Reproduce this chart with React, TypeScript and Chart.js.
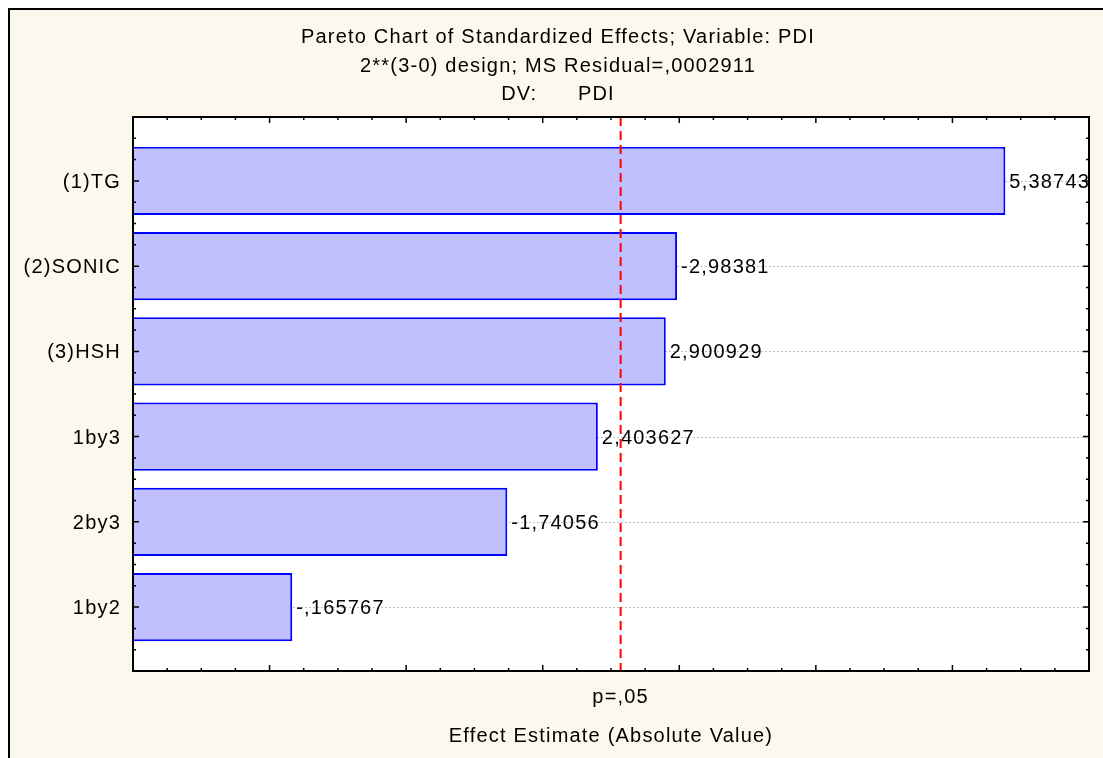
import { useEffect, useRef } from "react";
import { Chart, registerables } from "chart.js";

Chart.register(...registerables);

// Effects, in Pareto order (signed standardized estimates)
const effectNames = ["(1)TG", "(2)SONIC", "(3)HSH", "1by3", "2by3", "1by2"];
const effectValues = [5.38743, -2.98381, 2.900929, 2.403627, -1.74056, -0.165767];

// Significance threshold (t critical at p = .05)
const alphaLevel = 0.05;
const tCritical = 2.570582;
const msResidual = 0.0002911;

// Axis ranges and tick steps
const xRange = [-1, 6];
const yRange = [0.25, 6.75];
const tickStep = 0.25;

const FONT = '20px "Liberation Sans", Arial, sans-serif';
const BG = "#fcf8ed";

// Statistica-style number text: comma decimal, no leading zero
function fmt(v: number): string {
  let s = v.toPrecision(7);
  if (s.includes(".")) s = s.replace(/0+$/, "").replace(/\.$/, "");
  s = s.replace(/^(-?)0\./, "$1.");
  return s.replace(".", ",");
}

const titleLines = [
  "Pareto Chart of Standardized Effects; Variable: PDI",
  `2**(3-0) design; MS Residual=${fmt(msResidual)}`,
  "DV:      PDI",
];
const xAxisTitle = "Effect Estimate (Absolute Value)";
const thresholdLabel = `p=${fmt(alphaLevel)}`;

const CANVAS_W = 1100;
const CANVAS_H = 760;

const paretoDecor = {
  id: "paretoDecor",
  beforeDraw(chart: any) {
    const { ctx, chartArea: a } = chart;
    ctx.save();
    ctx.fillStyle = BG;
    ctx.fillRect(0, 0, CANVAS_W, CANVAS_H);
    ctx.strokeStyle = "#000";
    ctx.lineWidth = 2;
    ctx.strokeRect(1, 1, CANVAS_W - 2, CANVAS_H - 2);
    ctx.fillStyle = "#ffffff";
    ctx.fillRect(a.left, a.top, a.right - a.left, a.bottom - a.top);
    ctx.restore();
  },
  beforeDatasetsDraw(chart: any) {
    const { ctx, chartArea: a, scales } = chart;
    ctx.save();
    ctx.strokeStyle = "#bdbdbd";
    ctx.lineWidth = 1;
    ctx.setLineDash([2, 2]);
    effectNames.forEach((_, i) => {
      const y = Math.round(scales.y.getPixelForValue(i + 1)) + 0.5;
      ctx.beginPath();
      ctx.moveTo(a.left, y);
      ctx.lineTo(a.right, y);
      ctx.stroke();
    });
    ctx.restore();
  },
  afterDatasetsDraw(chart: any) {
    const { ctx, chartArea: a, scales } = chart;
    const xs = scales.x;
    const ys = scales.y;
    ctx.save();
    ctx.font = FONT;
    ctx.fillStyle = "#000";
    (ctx as any).letterSpacing = "1.2px";

    // value labels beside bars
    ctx.textAlign = "left";
    effectValues.forEach((v, i) => {
      const x = xs.getPixelForValue(Math.abs(v)) + 4;
      const y = ys.getPixelForValue(i + 1) + 7;
      ctx.fillText(fmt(v), x, y);
    });

    // significance line
    const tx = xs.getPixelForValue(tCritical);
    ctx.strokeStyle = "#ff0000";
    ctx.lineWidth = 2;
    ctx.setLineDash([9, 5]);
    ctx.beginPath();
    ctx.moveTo(tx, a.top);
    ctx.lineTo(tx, a.bottom);
    ctx.stroke();
    ctx.setLineDash([]);

    // plot frame
    ctx.strokeStyle = "#000";
    ctx.lineWidth = 2;
    ctx.strokeRect(a.left, a.top, a.right - a.left, a.bottom - a.top);

    // inward ticks on all four sides
    ctx.lineWidth = 1.5;
    const nx = Math.round((xRange[1] - xRange[0]) / tickStep);
    for (let k = 1; k < nx; k++) {
      const v = xRange[0] + k * tickStep;
      const len = Number.isInteger(v) ? 6 : 3;
      const x = xs.getPixelForValue(v);
      ctx.beginPath();
      ctx.moveTo(x, a.bottom);
      ctx.lineTo(x, a.bottom - len);
      ctx.moveTo(x, a.top);
      ctx.lineTo(x, a.top + len);
      ctx.stroke();
    }
    const ny = Math.round((yRange[1] - yRange[0]) / tickStep);
    for (let k = 1; k < ny; k++) {
      const v = yRange[0] + k * tickStep;
      const len = Number.isInteger(v) ? 6 : 3;
      const y = ys.getPixelForValue(v);
      ctx.beginPath();
      ctx.moveTo(a.left, y);
      ctx.lineTo(a.left + len, y);
      ctx.moveTo(a.right, y);
      ctx.lineTo(a.right - len, y);
      ctx.stroke();
    }

    // category labels
    ctx.textAlign = "right";
    effectNames.forEach((name, i) => {
      ctx.fillText(name, a.left - 12, ys.getPixelForValue(i + 1) + 7);
    });

    // titles
    ctx.textAlign = "center";
    const cx = CANVAS_W / 2;
    ctx.fillText(titleLines[0], cx, 35);
    ctx.fillText(titleLines[1], cx, 64);
    ctx.fillText(titleLines[2], cx, 92);

    // threshold label and axis title
    ctx.fillText(thresholdLabel, tx, 695);
    ctx.fillText(xAxisTitle, (a.left + a.right) / 2, 734);
    ctx.restore();
  },
};

export default function App() {
  const ref = useRef<HTMLCanvasElement | null>(null);

  useEffect(() => {
    const canvas = ref.current;
    if (!canvas) return;
    const chart = new Chart(canvas, {
      type: "bar",
      data: {
        datasets: [
          {
            data: effectValues.map((v, i) => ({ x: Math.abs(v), y: i + 1 })),
            base: xRange[0],
            backgroundColor: "#c0c0ff",
            borderColor: "#0000ff",
            borderWidth: 2,
            categoryPercentage: 1,
            barPercentage: 0.8,
          } as any,
        ],
      },
      options: {
        indexAxis: "y",
        responsive: false,
        animation: false,
        events: [],
        layout: { padding: { left: 125, top: 109, right: CANVAS_W - 1081, bottom: CANVAS_H - 663 } },
        scales: {
          x: { type: "linear", min: xRange[0], max: xRange[1], display: false },
          y: {
            type: "linear",
            min: yRange[0],
            max: yRange[1],
            reverse: true,
            offset: false,
            display: false,
            grid: { offset: false },
            // one tick per effect row so bar thickness follows row spacing
            afterBuildTicks: (scale: any) => {
              scale.ticks = effectNames.map((_, i) => ({ value: i + 1 }));
            },
          },
        },
        plugins: {
          legend: { display: false },
          tooltip: { enabled: false },
        },
      },
      plugins: [paretoDecor],
    });
    return () => chart.destroy();
  }, []);

  return (
    <div style={{ position: "fixed", left: 8, top: 8, width: 1095, height: 750, overflow: "hidden" }}>
      <canvas ref={ref} width={CANVAS_W} height={CANVAS_H} style={{ display: "block" }} />
    </div>
  );
}
